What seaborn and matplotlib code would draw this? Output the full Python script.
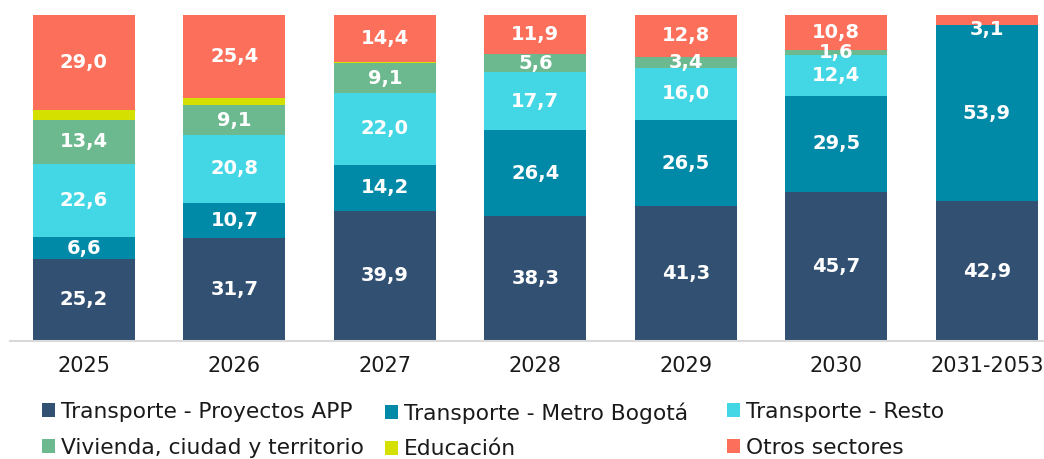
import matplotlib
matplotlib.use("Agg")
import matplotlib.pyplot as plt
from matplotlib.patches import Patch
import numpy as np
import pandas as pd
import seaborn as sns

# Participación por sector (%) de cada periodo
periodos = ["2025", "2026", "2027", "2028", "2029", "2030", "2031-2053"]
sectores = [
    "Transporte - Proyectos APP",
    "Transporte - Metro Bogotá",
    "Transporte - Resto",
    "Vivienda, ciudad y territorio",
    "Educación",
    "Otros sectores",
]
app = [25.2, 31.7, 39.9, 38.3, 41.3, 45.7, 42.9]
metro = [6.6, 10.7, 14.2, 26.4, 26.5, 29.5, 53.9]
resto = [22.6, 20.8, 22.0, 17.7, 16.0, 12.4, 0.0]
vivienda = [13.4, 9.1, 9.1, 5.6, 3.4, 1.6, 0.0]
educacion = [3.2, 2.3, 0.4, 0.0, 0.0, 0.0, 0.0]
otros = [29.0, 25.4, 14.4, 11.9, 12.8, 10.8, 3.1]

series = [app, metro, resto, vivienda, educacion, otros]
colores = ["#325072", "#008AA8", "#43D7E5", "#6DB98F", "#D4E000", "#FC6F5A"]
etiquetar = [True, True, True, True, False, True]

sns.set_theme(style="white")
plt.rcParams["font.family"] = ["DejaVu Sans"]

fig = plt.figure(figsize=(10.44, 4.59), dpi=100)
ax = fig.add_axes([10 / 1044, (459 - 341) / 459, 1 - 10 / 1044, (341 - 15) / 459])

base = np.zeros(len(periodos))
for nombre, valores, color, rot in zip(sectores, series, colores, etiquetar):
    df = pd.DataFrame({"periodo": periodos, "valor": valores})
    sns.barplot(data=df, x="periodo", y="valor", order=periodos, color=color,
                bottom=base.copy(), width=0.68, linewidth=0, saturation=1,
                errorbar=None, ax=ax)
    if rot:
        for i, v in enumerate(valores):
            if v >= 1:
                centro = base[i] + v / 2
                y = min(centro, 95.7)  # mantener la etiqueta dentro del área
                ax.text(i, y, f"{v:.1f}".replace(".", ","), ha="center",
                        va="center", color="white", fontsize=14,
                        fontweight="bold")
    base += np.array(valores)

ax.set_ylim(0, 100)
ax.set_xlim(-0.49, 6.38)
ax.set_xlabel("")
ax.set_ylabel("")
ax.set_yticks([])
for s in ["top", "left", "right"]:
    ax.spines[s].set_visible(False)
ax.spines["bottom"].set_color("#d9d9d9")
ax.spines["bottom"].set_linewidth(1.5)
ax.tick_params(axis="x", length=0, pad=10.5, labelsize=15, labelcolor="#1a1a1a")

# Leyenda en tres columnas de dos filas
columnas = [(0, 3), (1, 4), (2, 5)]
x_cols = [42, 385, 727]
for (a, b), xc in zip(columnas, x_cols):
    handles = [Patch(facecolor=colores[k], edgecolor="none") for k in (a, b)]
    fig.legend(handles, [sectores[a], sectores[b]], loc="upper left",
               bbox_to_anchor=(xc / 1044, 1 - 402 / 459), frameon=False,
               fontsize=15.7, handlelength=0.6, handleheight=0.6,
               handletextpad=0.25, labelspacing=0.73, borderaxespad=0,
               borderpad=0, labelcolor="#1a1a1a")

fig.savefig("out.png", dpi=100)
